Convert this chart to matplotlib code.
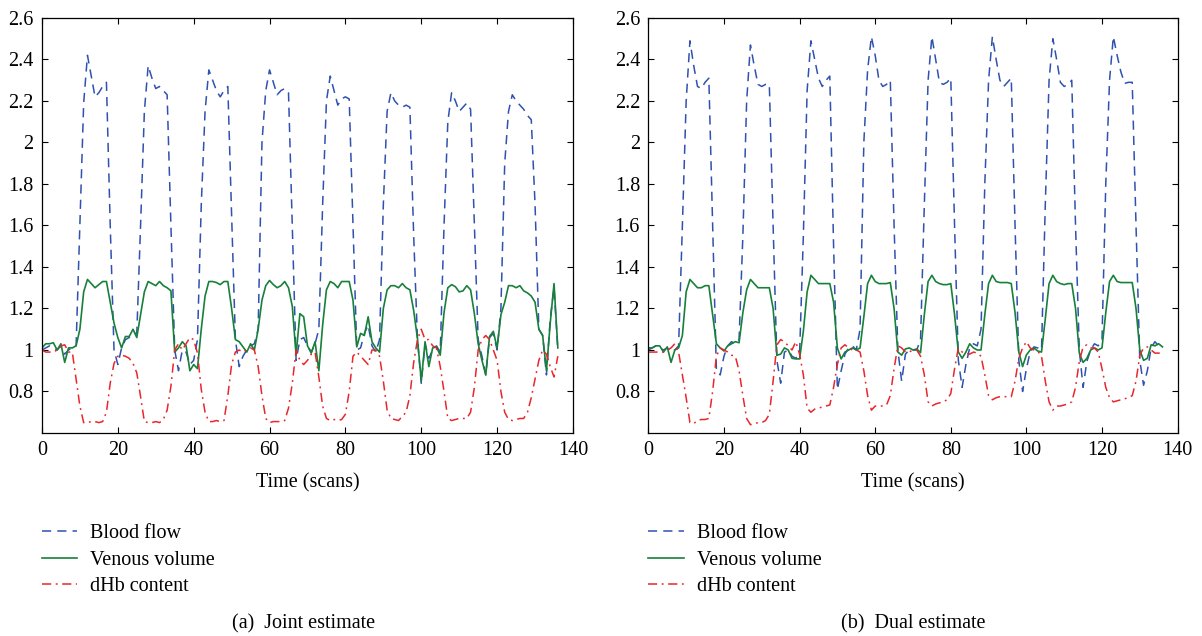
import matplotlib
matplotlib.use("Agg")
import matplotlib.pyplot as plt
import numpy as np

# scans 0..136
scans = list(range(137))

# (a) joint estimate
flow_joint = [
    1.00, 1.01, 1.02, 1.01, 1.00, 1.02, 0.98, 1.00, 1.01, 1.02,
    1.60, 2.19, 2.42, 2.32, 2.22, 2.24, 2.27, 2.29, 1.60, 1.00,
    0.93, 1.01, 1.05, 1.06, 1.08, 1.08, 1.60, 2.15, 2.37, 2.31,
    2.26, 2.27, 2.25, 2.23, 1.60, 1.00, 0.90, 1.00, 0.99, 0.93,
    0.95, 1.05, 1.70, 2.15, 2.35, 2.30, 2.25, 2.22, 2.25, 2.27,
    1.65, 1.05, 0.92, 0.97, 1.00, 1.02, 1.03, 1.10, 2.00, 2.25,
    2.35, 2.29, 2.23, 2.25, 2.26, 2.24, 1.60, 0.95, 1.05, 1.06,
    1.02, 0.99, 1.03, 1.10, 1.70, 2.20, 2.32, 2.25, 2.18, 2.21,
    2.22, 2.21, 1.60, 1.00, 1.01, 1.08, 1.12, 1.02, 0.99, 1.05,
    1.70, 2.15, 2.24, 2.20, 2.18, 2.17, 2.18, 2.17, 1.55, 1.05,
    0.84, 1.03, 0.96, 1.00, 1.02, 0.99, 1.60, 2.10, 2.24, 2.20,
    2.15, 2.17, 2.19, 2.16, 1.60, 1.05, 0.97, 0.88, 1.06, 1.08,
    1.00, 1.20, 1.90, 2.15, 2.23, 2.20, 2.18, 2.16, 2.13, 2.11,
    1.70, 1.10, 1.07, 0.88, 1.15, 1.30, 1.00]
volume_joint = [
    1.01, 1.03, 1.03, 1.035, 1.00, 1.03, 0.94, 1.01, 1.01, 1.02,
    1.10, 1.28, 1.34, 1.32, 1.30, 1.315, 1.33, 1.33, 1.23, 1.13,
    1.06, 1.01, 1.065, 1.065, 1.10, 1.06, 1.17, 1.28, 1.33, 1.32,
    1.31, 1.33, 1.31, 1.30, 1.285, 0.99, 1.01, 1.04, 1.02, 0.90,
    0.93, 0.91, 1.10, 1.26, 1.33, 1.33, 1.325, 1.315, 1.33, 1.33,
    1.20, 1.05, 1.04, 1.015, 0.99, 1.03, 1.00, 1.10, 1.24, 1.31,
    1.335, 1.315, 1.30, 1.31, 1.33, 1.30, 1.21, 0.975, 1.175, 1.16,
    1.02, 0.985, 1.04, 0.90, 1.12, 1.29, 1.33, 1.32, 1.30, 1.33,
    1.33, 1.33, 1.24, 1.015, 1.08, 1.07, 1.16, 1.04, 1.01, 0.99,
    1.20, 1.29, 1.31, 1.31, 1.30, 1.32, 1.30, 1.29, 1.19, 1.055,
    0.85, 1.04, 0.92, 1.01, 1.015, 0.975, 1.18, 1.30, 1.315, 1.305,
    1.28, 1.285, 1.31, 1.29, 1.175, 1.03, 0.95, 0.88, 1.065, 1.09,
    1.01, 1.17, 1.23, 1.31, 1.31, 1.30, 1.31, 1.285, 1.275, 1.26,
    1.23, 1.10, 1.07, 0.90, 1.13, 1.32, 1.01]
dhb_joint = [
    1.00, 0.99, 0.99, 0.99, 1.00, 1.02, 1.025, 0.99, 0.99, 0.86,
    0.73, 0.65, 0.65, 0.655, 0.655, 0.65, 0.655, 0.70, 0.84, 0.935,
    0.97, 0.975, 0.97, 0.96, 0.935, 0.89, 0.775, 0.655, 0.65, 0.65,
    0.655, 0.65, 0.665, 0.71, 0.825, 1.00, 1.03, 1.00, 1.03, 1.06,
    1.05, 0.985, 0.81, 0.70, 0.655, 0.655, 0.66, 0.655, 0.66, 0.78,
    0.93, 0.99, 1.00, 0.99, 1.00, 1.01, 1.00, 0.92, 0.78, 0.67,
    0.65, 0.655, 0.655, 0.655, 0.66, 0.72, 0.84, 1.00, 0.95, 0.93,
    0.95, 0.98, 0.99, 0.87, 0.73, 0.67, 0.66, 0.665, 0.66, 0.665,
    0.69, 0.80, 0.97, 0.99, 0.97, 0.95, 0.93, 1.00, 1.00, 0.97,
    0.85, 0.71, 0.67, 0.665, 0.66, 0.68, 0.70, 0.78, 0.94, 1.05,
    1.10, 1.05, 1.05, 1.02, 1.01, 0.92, 0.80, 0.67, 0.66, 0.665,
    0.67, 0.67, 0.67, 0.70, 0.82, 1.00, 1.05, 1.07, 1.05, 1.00,
    0.95, 0.80, 0.70, 0.665, 0.66, 0.665, 0.67, 0.67, 0.70, 0.77,
    0.86, 0.95, 1.00, 0.98, 0.92, 0.87, 0.97]

# (b) dual estimate
flow_dual = [
    1.00, 1.01, 1.02, 1.01, 1.00, 1.01, 0.99, 1.00, 1.02, 1.60,
    2.20, 2.49, 2.37, 2.27, 2.26, 2.29, 2.31, 1.60, 0.90, 0.88,
    0.97, 1.02, 1.04, 1.03, 1.05, 1.55, 2.20, 2.47, 2.37, 2.28,
    2.27, 2.28, 2.28, 1.60, 0.95, 0.84, 0.99, 1.00, 0.97, 0.96,
    0.98, 1.55, 2.25, 2.49, 2.40, 2.31, 2.27, 2.30, 2.32, 1.50,
    0.81, 0.90, 0.98, 1.01, 1.02, 1.00, 1.10, 2.00, 2.35, 2.51,
    2.42, 2.30, 2.27, 2.28, 2.30, 1.60, 1.00, 0.85, 0.98, 1.00,
    1.00, 1.00, 1.05, 1.70, 2.30, 2.51, 2.40, 2.29, 2.28, 2.29,
    2.31, 1.60, 0.95, 0.82, 0.93, 1.01, 1.03, 1.02, 1.10, 1.80,
    2.30, 2.51, 2.40, 2.30, 2.27, 2.29, 2.31, 1.60, 0.95, 0.80,
    0.91, 0.99, 1.015, 1.01, 1.00, 1.70, 2.30, 2.50, 2.40, 2.29,
    2.27, 2.28, 2.30, 1.60, 1.00, 0.82, 0.945, 1.00, 1.03, 1.02,
    1.05, 1.80, 2.30, 2.51, 2.42, 2.34, 2.285, 2.29, 2.29, 1.60,
    0.95, 0.83, 0.90, 1.01, 1.04, 1.02, 1.01]
volume_dual = [
    1.01, 1.01, 1.02, 1.02, 0.99, 1.015, 0.94, 1.00, 1.01, 1.07,
    1.28, 1.34, 1.32, 1.30, 1.30, 1.31, 1.31, 1.17, 1.03, 1.01,
    0.995, 1.02, 1.03, 1.04, 1.035, 1.18, 1.29, 1.34, 1.32, 1.30,
    1.30, 1.30, 1.30, 1.20, 0.975, 0.98, 1.01, 1.00, 0.96, 0.957,
    0.957, 1.09, 1.28, 1.36, 1.34, 1.32, 1.32, 1.32, 1.32, 1.23,
    1.01, 0.957, 0.99, 1.00, 1.01, 1.00, 1.01, 1.16, 1.32, 1.36,
    1.33, 1.32, 1.32, 1.32, 1.325, 1.20, 0.99, 0.975, 1.005, 1.01,
    1.00, 1.005, 0.987, 1.17, 1.33, 1.36, 1.33, 1.32, 1.315, 1.315,
    1.32, 1.17, 0.99, 0.96, 0.99, 1.03, 1.01, 1.00, 1.00, 1.17,
    1.32, 1.36, 1.33, 1.325, 1.325, 1.325, 1.32, 1.18, 0.99, 0.92,
    0.976, 1.00, 1.01, 0.995, 0.99, 1.15, 1.32, 1.36, 1.33, 1.32,
    1.315, 1.32, 1.32, 1.20, 0.985, 0.94, 0.96, 1.00, 1.01, 1.00,
    1.01, 1.18, 1.33, 1.36, 1.33, 1.325, 1.325, 1.325, 1.325, 1.20,
    1.00, 0.95, 0.96, 1.025, 1.02, 1.03, 1.015]
dhb_dual = [
    0.99, 0.99, 0.99, 0.99, 0.99, 1.00, 1.01, 1.03, 0.99, 0.88,
    0.77, 0.65, 0.645, 0.66, 0.665, 0.665, 0.67, 0.80, 0.97, 1.01,
    1.00, 0.99, 0.975, 0.97, 0.90, 0.78, 0.67, 0.64, 0.645, 0.65,
    0.65, 0.66, 0.69, 0.85, 1.025, 1.05, 1.04, 1.02, 1.00, 1.04,
    0.98, 0.88, 0.72, 0.70, 0.715, 0.72, 0.725, 0.73, 0.735, 0.82,
    0.93, 1.01, 1.025, 1.01, 1.00, 1.00, 0.99, 0.90, 0.78, 0.71,
    0.73, 0.73, 0.73, 0.735, 0.78, 0.91, 1.02, 1.01, 0.99, 0.99,
    1.00, 1.00, 0.97, 0.88, 0.75, 0.73, 0.74, 0.745, 0.75, 0.76,
    0.79, 0.91, 1.01, 0.99, 0.985, 0.98, 0.99, 0.985, 0.97, 0.88,
    0.78, 0.76, 0.77, 0.775, 0.775, 0.775, 0.775, 0.85, 0.96, 1.01,
    1.04, 1.01, 1.00, 0.995, 0.97, 0.85, 0.75, 0.71, 0.73, 0.73,
    0.735, 0.74, 0.75, 0.82, 0.945, 1.015, 1.025, 1.01, 1.01, 0.99,
    0.91, 0.82, 0.77, 0.75, 0.755, 0.76, 0.765, 0.77, 0.78, 0.85,
    0.975, 1.01, 1.015, 1.00, 0.985, 0.985, 0.985]

labels = ["Blood flow", "Venous volume", "dHb content"]
captions = ["(a)  Joint estimate", "(b)  Dual estimate"]

plt.rcParams['font.family'] = ['Liberation Serif', 'DejaVu Serif']

blue = '#2f52b0'
green = '#17803a'
red = '#e8262b'

fig = plt.figure(figsize=(12.02, 6.36), dpi=100)
ax_a = fig.add_axes([0.0349, 0.3192, 0.4418, 0.6525])
ax_b = fig.add_axes([0.5394, 0.3192, 0.4403, 0.6525])

def panel(ax, flow, volume, dhb, caption, cx):
    ax.plot(scans, flow, color=blue, lw=1.1, ls=(0, (6, 4)), label=labels[0])
    ax.plot(scans, volume, color=green, lw=1.2, ls='-', label=labels[1])
    ax.plot(scans, dhb, color=red, lw=1.1, ls=(0, (6, 3, 1.2, 3)), label=labels[2])
    ax.set_xlim(0, 140)
    ax.set_ylim(0.6, 2.6)
    ax.set_xticks(np.arange(0, 141, 20))
    ax.set_yticks(np.arange(0.8, 2.61, 0.2))
    ax.set_yticklabels(['0.8', '1', '1.2', '1.4', '1.6', '1.8', '2', '2.2', '2.4', '2.6'])
    ax.tick_params(direction='in', top=True, right=True, length=4, width=0.8,
                   labelsize=14.5, pad=6)
    for s in ax.spines.values():
        s.set_linewidth(0.9)
    ax.set_xlabel('Time (scans)', fontsize=14.5, labelpad=9)
    ax.legend(loc='upper left', bbox_to_anchor=(0, -0.22), frameon=False,
              fontsize=14.5, borderaxespad=0, borderpad=0, handlelength=1.75,
              handletextpad=0.65, labelspacing=0.36)
    fig.text(cx, 1 - 624 / 636, caption, ha='center', va='center', fontsize=14.5)

panel(ax_a, flow_joint, volume_joint, dhb_joint, captions[0], 304 / 1202)
panel(ax_b, flow_dual, volume_dual, dhb_dual, captions[1], 913 / 1202)

fig.savefig('out.png', dpi=100)
